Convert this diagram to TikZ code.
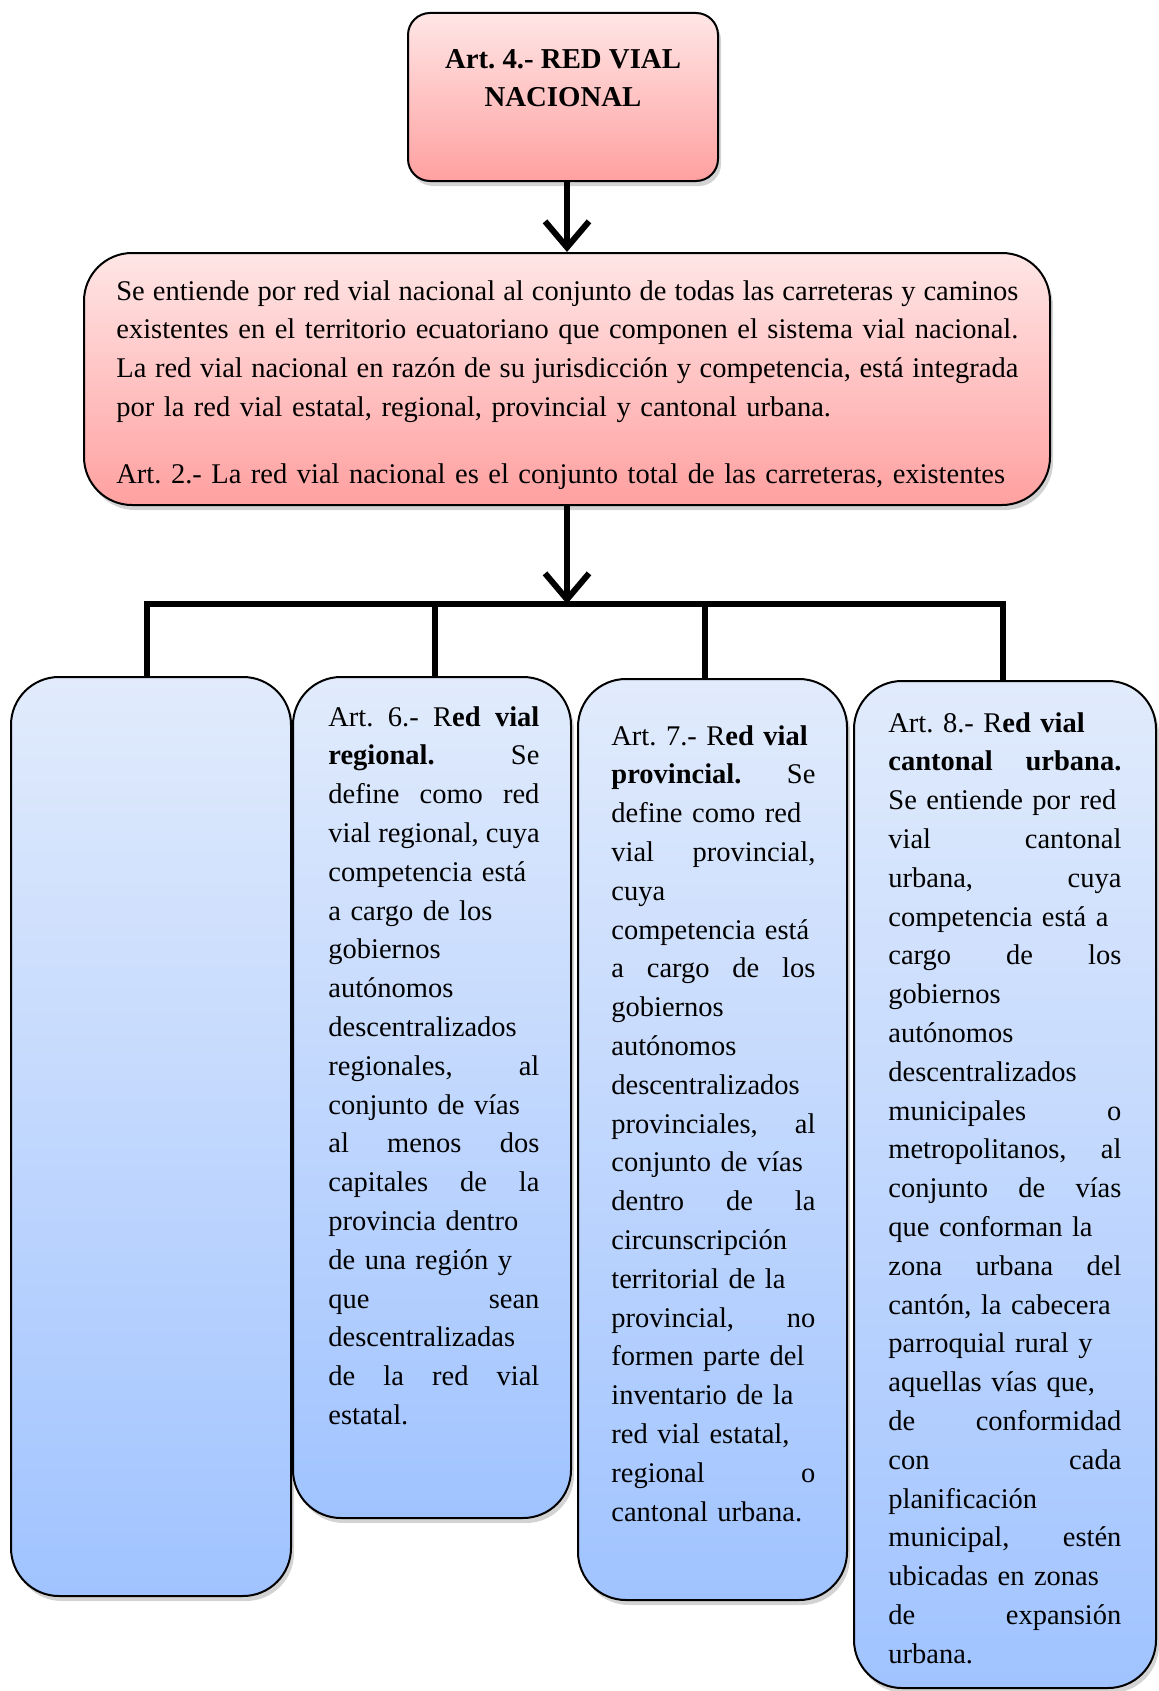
\documentclass[tikz,border=0pt]{standalone}
\usepackage{fontspec}
\setmainfont{Liberation Serif}
\usepackage{xcolor}
\usetikzlibrary{calc, arrows.meta, positioning, shadows}

\definecolor{pinktop}{RGB}{255,230,230}
\definecolor{pinkbot}{RGB}{255,160,160}
\definecolor{bluetop}{RGB}{225,235,252}
\definecolor{bluebot}{RGB}{160,195,255}

% justified line (stretched to the column width)
\newlength{\colw}
\newcommand{\jl}[1]{\leavevmode\hbox to \colw{\spaceskip=\fontdimen2\font plus 1fil\relax #1}}

\begin{document}
\frenchspacing
\begin{tikzpicture}[
	x=0.5pt, y=-0.5pt,
	>={Straight Barb[length=13pt, width=22pt]},
	every node/.style={font=\fontsize{14.25}{19.4}\selectfont},
	pink box/.style={draw=black, line width=1pt, rounded corners=#1,
		top color=pinktop, bottom color=pinkbot,
		drop shadow={shadow xshift=1.5pt, shadow yshift=-2.5pt, opacity=0.35}},
	blue box/.style={draw=black, line width=1pt, rounded corners=24pt,
		top color=bluetop, bottom color=bluebot,
		drop shadow={shadow xshift=1.5pt, shadow yshift=-2.5pt, opacity=0.35}},
	box text/.style={inner sep=0pt, anchor=base west, align=left,
		text width=#1, execute at begin node={\setlength{\colw}{#1}}},
	connector/.style={black, line width=3pt, line join=miter},
	link/.style={connector, ->}
	]
	\useasboundingbox (0,0) rectangle (1158,1691);

	% =====================================================
	% CAJAS SUPERIORES
	% =====================================================
	\node[pink box=11pt, minimum width=155pt, minimum height=84pt] (nacional) at (563,97) {};
	\node[inner sep=0pt, anchor=base, align=center, font=\fontsize{14.4}{19.5}\selectfont\bfseries]
		(nacionalT) at (563,107) {Art. 4.- RED VIAL\\NACIONAL};

	\node[pink box=24pt, minimum width=483pt, minimum height=126pt] (definicion) at (567,379) {};
	\node[box text=451pt] (definicionT) at (116,300) {%
		\jl{Se entiende por red vial nacional al conjunto de todas las carreteras y caminos}\\
		\jl{existentes en el territorio ecuatoriano que componen el sistema vial nacional.}\\
		\jl{La red vial nacional en razón de su jurisdicción y competencia, está integrada}\\
		por la red vial estatal, regional, provincial y cantonal urbana.\\[14pt]
		Art. 2.- La red vial nacional es el conjunto total de las carreteras, existentes};

	% =====================================================
	% COLUMNAS
	% =====================================================
	\node[blue box, minimum width=140pt, minimum height=459.5pt] (estatal) at (151,1136.5) {};
	\node[blue box, minimum width=139pt, minimum height=420.5pt] (regional) at (432,1097.5) {};
	\node[blue box, minimum width=134.5pt, minimum height=460.5pt] (provincial) at (712.5,1139.5) {};
	\node[blue box, minimum width=151pt, minimum height=503.5pt] (cantonal) at (1005,1184.5) {};

	\node[box text=105.5pt] (regionalT) at (328,726) {%
		\jl{Art. 6.- R\textbf{ed vial}}\\
		\jl{\textbf{regional.} Se}\\
		\jl{define como red}\\
		\jl{vial regional, cuya}\\
		competencia está\\
		a cargo de los\\
		gobiernos\\
		autónomos\\
		descentralizados\\
		\jl{regionales, al}\\
		conjunto de vías\\
		\jl{al menos dos}\\
		\jl{capitales de la}\\
		provincia dentro\\
		de una región y\\
		\jl{que sean}\\
		descentralizadas\\
		\jl{de la red vial}\\
		estatal.};

	\node[box text=102pt] (provincialT) at (611,745) {%
		Art. 7.- R\textbf{ed vial}\\
		\jl{\textbf{provincial.} Se}\\
		define como red\\
		\jl{vial provincial,}\\
		cuya\\
		competencia está\\
		\jl{a cargo de los}\\
		gobiernos\\
		autónomos\\
		descentralizados\\
		\jl{provinciales, al}\\
		conjunto de vías\\
		\jl{dentro de la}\\
		circunscripción\\
		territorial de la\\
		\jl{provincial, no}\\
		formen parte del\\
		inventario de la\\
		red vial estatal,\\
		\jl{regional o}\\
		cantonal urbana.};

	\node[box text=116.5pt] (cantonalT) at (888,732) {%
		Art. 8.- R\textbf{ed vial}\\
		\jl{\textbf{cantonal urbana.}}\\
		Se entiende por red\\
		\jl{vial cantonal}\\
		\jl{urbana, cuya}\\
		competencia está a\\
		\jl{cargo de los}\\
		gobiernos\\
		autónomos\\
		descentralizados\\
		\jl{municipales o}\\
		\jl{metropolitanos, al}\\
		\jl{conjunto de vías}\\
		que conforman la\\
		\jl{zona urbana del}\\
		cantón, la cabecera\\
		parroquial rural y\\
		aquellas vías que,\\
		\jl{de conformidad}\\
		\jl{con cada}\\
		planificación\\
		\jl{municipal, estén}\\
		ubicadas en zonas\\
		\jl{de expansión}\\
		urbana.};

	% =====================================================
	% CONECTORES
	% =====================================================
	\coordinate (bar) at (567,604);
	\coordinate (d1) at (147,604);
	\coordinate (d2) at (435,604);
	\coordinate (d3) at (705,604);
	\coordinate (d4) at (1003,604);

	\draw[link] (definicion.north |- nacional.south) -- (definicion.north);
	\draw[link] (definicion.south) -- (bar);
	\draw[connector] (d1 |- estatal.north) -- (d1) -- (d4) -- (d4 |- cantonal.north);
	\draw[connector] (d2) -- (d2 |- regional.north);
	\draw[connector] (d3) -- (d3 |- provincial.north);

\end{tikzpicture}
\end{document}
